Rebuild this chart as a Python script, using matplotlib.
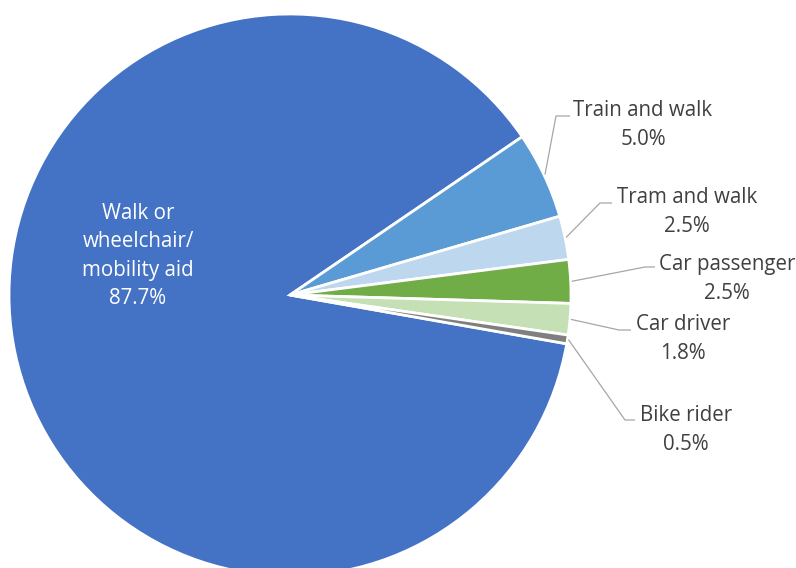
import numpy as np
import matplotlib
matplotlib.use("Agg")
import matplotlib.pyplot as plt

# travel mode shares, clockwise from the big slice
modes = ["Walk or\nwheelchair/\nmobility aid", "Train and walk", "Tram and walk",
         "Car passenger", "Car driver", "Bike rider"]
shares = [87.7, 5.0, 2.5, 2.5, 1.8, 0.5]
colors = ["#4472C4", "#5B9BD5", "#BDD7EE", "#70AD47", "#C5E0B4", "#7F7F7F"]

plt.rcParams["font.family"] = ["Open Sans", "DejaVu Sans"]

W, H = 796, 568
fig = plt.figure(figsize=(W / 100, H / 100), dpi=100)
ax = fig.add_axes([0, 0, 1, 1])
ax.set_aspect("equal")

cx, cy, r = 290, H - 295, 281
start = -10
wedges, _ = ax.pie(shares, colors=colors, startangle=start, counterclock=False,
                   center=(cx, cy), radius=r, frame=True,
                   wedgeprops=dict(edgecolor="white", linewidth=2))
ax.set_xlim(0, W)
ax.set_ylim(0, H)
ax.axis("off")

txt_col = "#404040"
line_col = "#A6A6A6"
fs = 14.8
ls = 1.47

# big slice label sits inside
ax.text(138, H - 256, f"{modes[0]}\n{shares[0]:.1f}%", ha="center", va="center",
        color="white", fontsize=fs, linespacing=ls)

# outside labels: (elbow x, elbow y, line end x, text center x, text center y) in pixels
layout = [
    (556, 116, 570, 643, 125),
    (600, 203, 612, 687, 212),
    (645, 267, 655, 727, 279),
    (619, 330, 631, 683, 339),
    (625, 420, 635, 686, 430),
]
for w, name, val, (ex, ey, lx, tx, ty) in zip(wedges[1:], modes[1:], shares[1:], layout):
    mid = np.deg2rad((w.theta1 + w.theta2) / 2)
    sx = cx + (r + 1) * np.cos(mid)
    sy = cy + (r + 1) * np.sin(mid)
    ax.plot([sx, ex, lx], [sy, H - ey, H - ey], color=line_col, lw=0.9,
            solid_capstyle="butt")
    ax.text(tx, H - ty, f"{name}\n{val:.1f}%", ha="center", va="center",
            color=txt_col, fontsize=fs, linespacing=ls)

fig.savefig("out.png", dpi=100, facecolor="white")
